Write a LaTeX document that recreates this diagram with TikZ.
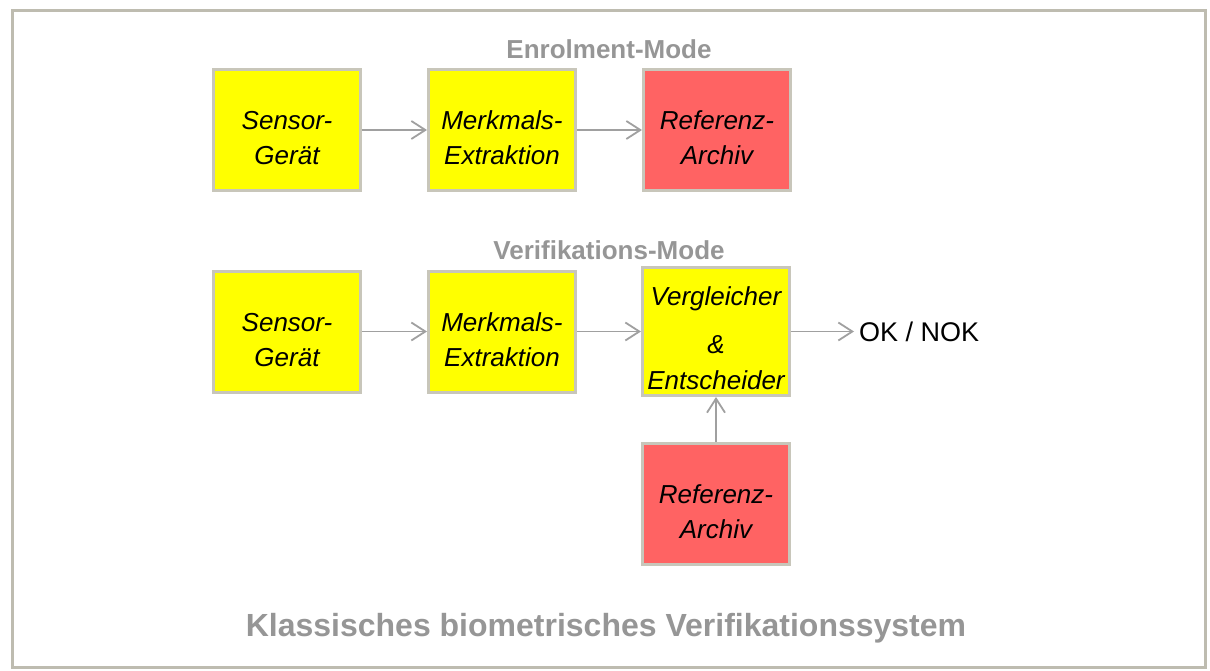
\documentclass[tikz,border=0pt]{standalone}
\usepackage{fontspec}
\setmainfont{Liberation Sans}
\usetikzlibrary{positioning,arrows.meta}
\definecolor{boxyel}{RGB}{255,255,0}
\definecolor{boxred}{RGB}{255,99,99}
\definecolor{rimcol}{RGB}{200,198,186}
\definecolor{framecol}{RGB}{190,188,176}
\definecolor{arrcol}{RGB}{160,160,160}
\definecolor{capcol}{RGB}{150,150,150}

\begin{document}
\begin{tikzpicture}[x=1pt,y=-1pt,
  block/.style={draw=rimcol,line width=3pt,minimum width=147pt,minimum height=121pt,
    align=center,inner sep=0pt,font=\fontsize{26}{35}\selectfont\itshape,
    execute at begin node={\rule{0pt}{70pt}}},
  yelblock/.style={block,fill=boxyel},
  redblock/.style={block,fill=boxred},
  flow/.style={draw=arrcol,line width=1.8pt,-{Straight Barb[length=14pt,width=18pt]}},
  modetitle/.style={text=capcol,font=\fontsize{26}{30}\selectfont\bfseries},
  node distance=65pt]
\useasboundingbox (0,0) rectangle (1210,671);
\draw[framecol,line width=3pt] (12,11) rectangle (1205,667);

% Enrolment
\node[modetitle] (enrol) at (609,49) {Enrolment-Mode};
\node[yelblock] (sens1) at (287,130) {Sensor-\\Gerät};
\node[yelblock,right=of sens1] (merk1) {Merkmals-\\Extraktion};
\node[redblock,right=of merk1] (ref1) {Referenz-\\Archiv};
\draw[flow] (sens1) -- (merk1);
\draw[flow] (merk1) -- (ref1);

% Verifikation
\node[modetitle] (verif) at (609,250) {Verifikations-Mode};
\node[yelblock] (sens2) at (287,331.5) {Sensor-\\Gerät};
\node[yelblock,right=of sens2] (merk2) {Merkmals-\\Extraktion};
\node[yelblock,right=64pt of merk2,minimum height=128pt,
  execute at begin node={\rule{0pt}{117pt}}] (verg) {Vergleicher\\[13pt]\&\\[1pt]Entscheider};
\node[redblock,below=45pt of verg] (ref2) {Referenz-\\Archiv};
\node[right=63pt of verg,inner sep=5pt,font=\fontsize{27}{32}\selectfont] (ok) {OK / NOK};
\draw[flow] (sens2) -- (merk2);
\draw[flow] (merk2) -- (verg);
\draw[flow] (verg) -- (ok);
\draw[flow] (ref2) -- (verg);

\node[text=capcol,font=\fontsize{32}{38}\selectfont\bfseries] (title) at (606,628)
  {Klassisches biometrisches Verifikationssystem};
\end{tikzpicture}
\end{document}
